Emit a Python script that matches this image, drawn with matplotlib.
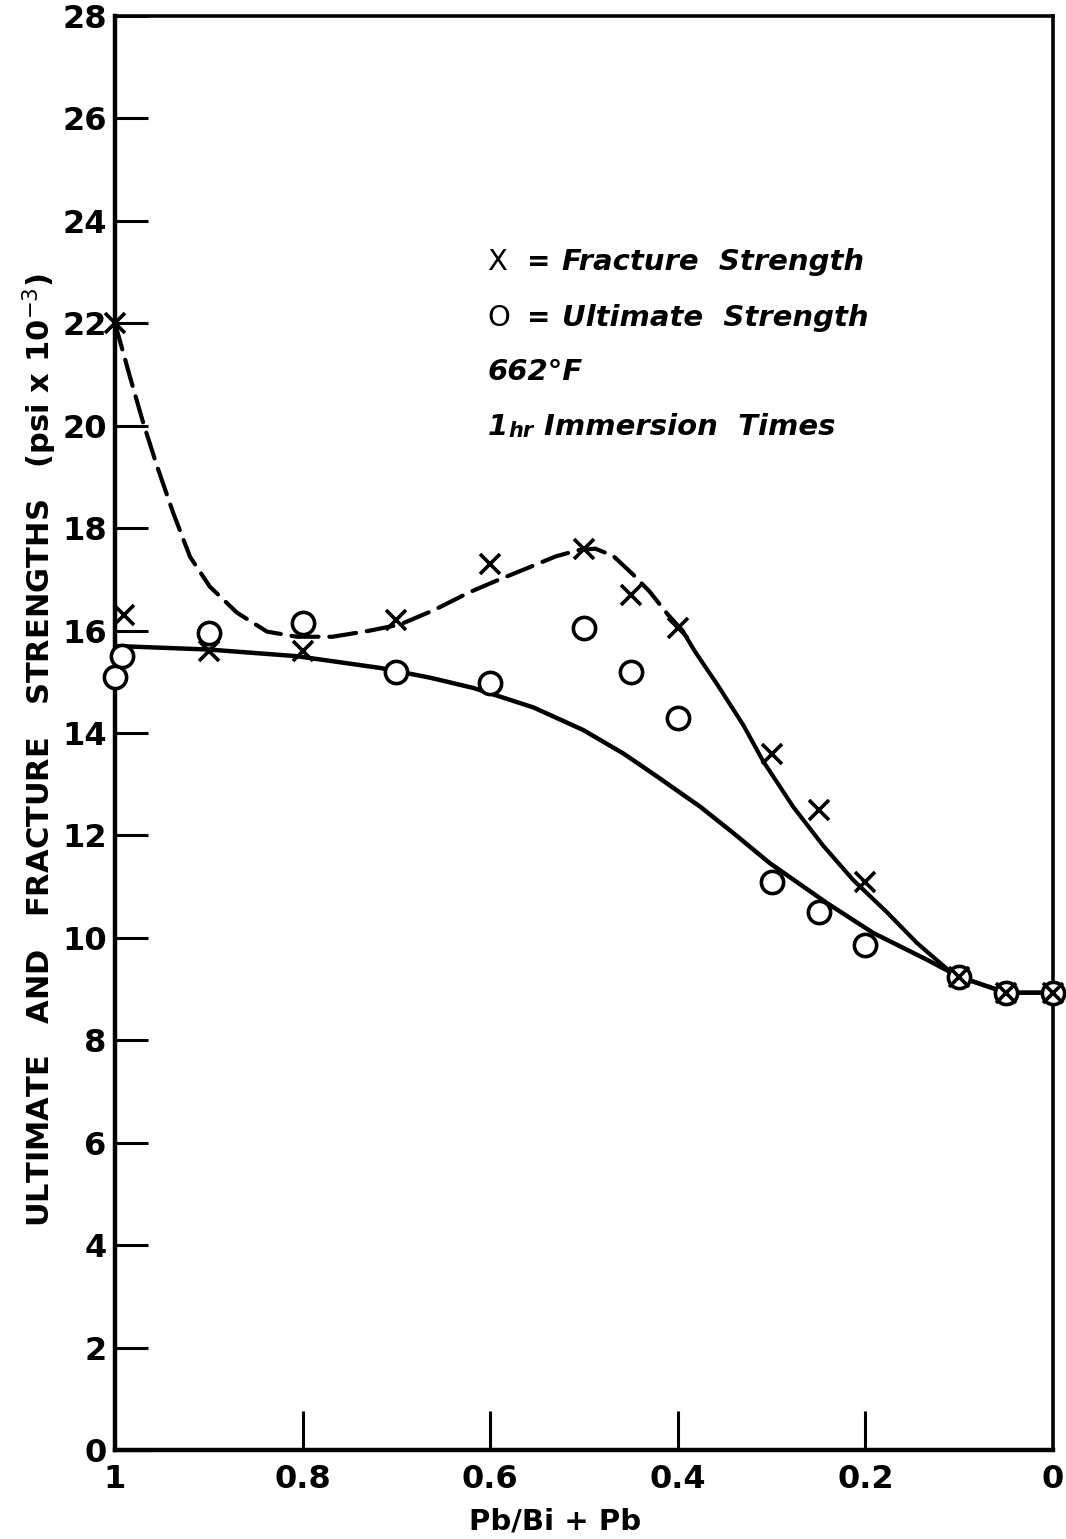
import matplotlib
matplotlib.use("Agg")
import matplotlib.pyplot as plt

# measured points, Pb/(Bi+Pb) fraction vs strength (ksi)
frac_x = [1.0, 0.99, 0.90, 0.80, 0.70, 0.60, 0.50, 0.45, 0.40, 0.30, 0.25, 0.20, 0.10, 0.05, 0.0]
frac_y = [22.0, 16.3, 15.6, 15.6, 16.2, 17.3, 17.6, 16.7, 16.05, 13.6, 12.5, 11.1, 9.24, 8.93, 8.93]

ult_x = [1.0, 0.993, 0.90, 0.80, 0.70, 0.60, 0.50, 0.45, 0.40, 0.30, 0.25, 0.20, 0.10, 0.05, 0.0]
ult_y = [15.1, 15.5, 15.95, 16.15, 15.2, 14.98, 16.05, 15.2, 14.3, 11.1, 10.5, 9.86, 9.24, 8.93, 8.93]

# faired curve through the fracture data: dashed part, then solid part
frac_dash_x = [1.0, 0.984, 0.970, 0.955, 0.938, 0.920, 0.899, 0.870, 0.838, 0.806, 0.768,
               0.728, 0.696, 0.660, 0.622, 0.590, 0.563, 0.530, 0.506, 0.488, 0.469,
               0.448, 0.430, 0.410, 0.395]
frac_dash_y = [22.0, 20.95, 20.06, 19.2, 18.3, 17.44, 16.86, 16.35, 15.98, 15.88, 15.88,
               16.0, 16.12, 16.4, 16.75, 17.0, 17.2, 17.45, 17.57, 17.6, 17.46,
               17.1, 16.76, 16.3, 16.0]
frac_solid_x = [0.395, 0.382, 0.358, 0.330, 0.309, 0.277, 0.245, 0.213, 0.177, 0.145,
                0.107, 0.100, 0.050, 0.011, 0.0]
frac_solid_y = [16.0, 15.6, 14.95, 14.15, 13.45, 12.56, 11.8, 11.13, 10.5, 9.9,
                9.3, 9.24, 8.93, 8.93, 8.93]

# faired curve through the ultimate data
ult_curve_x = [1.0, 0.90, 0.806, 0.717, 0.664, 0.618, 0.554, 0.501, 0.458, 0.422, 0.387,
               0.376, 0.341, 0.302, 0.241, 0.192, 0.134, 0.100, 0.050, 0.0]
ult_curve_y = [15.7, 15.63, 15.5, 15.27, 15.08, 14.88, 14.5, 14.06, 13.6, 13.15, 12.7,
               12.56, 12.05, 11.46, 10.68, 10.1, 9.57, 9.24, 8.93, 8.93]

xticks = [1.0, 0.8, 0.6, 0.4, 0.2, 0.0]
xticklabels = ["1", "0.8", "0.6", "0.4", "0.2", "0"]
yticks = list(range(0, 29, 2))

plt.rcParams["font.family"] = ["DejaVu Sans"]

fig = plt.figure(figsize=(10.66, 15.39), dpi=100)
ax = fig.add_axes([0.1079, 0.0578, 0.8799, 0.9318])

ax.plot(frac_dash_x, frac_dash_y, color="black", lw=3, dashes=(6.5, 2.6),
        dash_capstyle="round", zorder=2)
ax.plot(frac_solid_x, frac_solid_y, color="black", lw=3, solid_joinstyle="round",
        solid_capstyle="round", zorder=2)
ax.plot(ult_curve_x, ult_curve_y, color="black", lw=3.2, solid_joinstyle="round",
        solid_capstyle="round", zorder=2)

ax.plot(ult_x, ult_y, ls="none", marker="o", ms=16, mfc="white", mec="black",
        mew=2.6, zorder=3, clip_on=False)
ax.plot(frac_x, frac_y, ls="none", marker="x", ms=14, mec="black", mew=2.6,
        zorder=4, clip_on=False)

ax.set_xlim(1, 0)
ax.set_ylim(0, 28)
ax.set_xticks(xticks[1:-1])
ax.set_xticklabels(xticklabels[1:-1])
ax.set_yticks(yticks)

ax.tick_params(axis="y", direction="in", length=24, width=2.2, pad=6,
               labelsize=23, right=False)
ax.tick_params(axis="x", direction="in", length=28, width=2.2, pad=10,
               labelsize=23, top=False)
for lbl in ax.get_xticklabels() + ax.get_yticklabels():
    lbl.set_fontweight("bold")

# end labels of the x axis sit below the corners
ax.text(1.0, -0.01, "1", transform=ax.get_xaxis_transform(), ha="center", va="top",
        fontsize=23, fontweight="bold")
ax.text(0.0, -0.01, "0", transform=ax.get_xaxis_transform(), ha="center", va="top",
        fontsize=23, fontweight="bold")

for side in ["left", "bottom"]:
    ax.spines[side].set_linewidth(3.2)
for side in ["top", "right"]:
    ax.spines[side].set_linewidth(2.6)

# key and test conditions
kx = 0.397
key = dict(transform=ax.transAxes, fontsize=21, va="center", style="italic",
           fontweight="bold")
ax.text(kx, 0.8285, "X", transform=ax.transAxes, fontsize=21, va="center")
ax.text(kx + 0.042, 0.8285, "=", transform=ax.transAxes, fontsize=20, va="center",
        fontweight="bold")
ax.text(kx + 0.08, 0.8285, "Fracture  Strength", **key)
ax.text(kx, 0.7894, "O", transform=ax.transAxes, fontsize=21, va="center")
ax.text(kx + 0.042, 0.7894, "=", transform=ax.transAxes, fontsize=20, va="center",
        fontweight="bold")
ax.text(kx + 0.08, 0.7894, "Ultimate  Strength", **key)
ax.text(kx, 0.7517, "662°F", **key)
ax.text(kx, 0.7134, "1", **key)
ax.text(kx + 0.022, 0.7105, "hr", transform=ax.transAxes, fontsize=15, va="center",
        style="italic", fontweight="bold")
ax.text(kx + 0.06, 0.7134, "Immersion  Times", **key)

fig.text(40 / 1066, 0.5127,
         r"ULTIMATE   AND   FRACTURE   STRENGTHS   (psi x 10$^{-3}$)",
         rotation=90, ha="center", va="center", fontsize=22, fontweight="bold")
fig.text(555 / 1066, 1 - 1522 / 1539, "Pb/Bi + Pb", ha="center", va="center",
         fontsize=21, fontweight="bold")

fig.savefig("out.png", dpi=100)
